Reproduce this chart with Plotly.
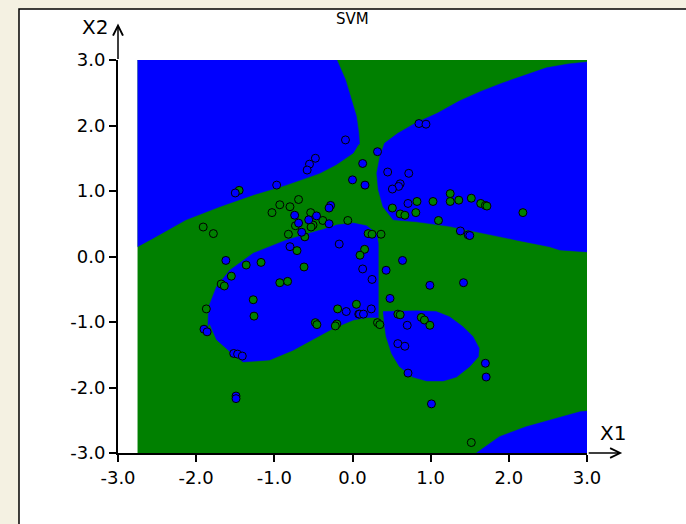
import plotly.graph_objects as go

# ---- data ----
grid_x = [-2.75, 3.0, 3.0, -2.75]
grid_y = [-3.0, -3.0, 3.0, 3.0]

region_tl_x = [-2.75, -0.20, -0.09, -0.01, 0.05, 0.08, 0.09, 0.07, 0.01, -0.21, -0.42, -0.85, -1.27, -1.70, -2.13, -2.55, -2.75]
region_tl_y = [3.0, 3.0, 2.70, 2.39, 2.14, 1.88, 1.72, 1.70, 1.58, 1.40, 1.27, 1.09, 0.94, 0.76, 0.56, 0.28, 0.15]

region_tr_x = [3.0, 2.76, 2.48, 2.20, 1.92, 1.64, 1.36, 1.09, 0.81, 0.58, 0.41, 0.35, 0.31, 0.33, 0.39, 0.52, 0.82, 1.24, 1.67, 2.10, 2.52, 2.65, 3.0]
region_tr_y = [2.97, 2.94, 2.88, 2.77, 2.65, 2.52, 2.37, 2.19, 2.04, 1.88, 1.73, 1.52, 1.27, 1.02, 0.76, 0.56, 0.53, 0.46, 0.35, 0.25, 0.15, 0.10, 0.07]

region_cl_x = [-0.21, 0.01, 0.18, 0.31, 0.33, 0.33, 0.18, 0.01, -0.25, -0.51, -0.76, -1.06, -1.40, -1.57, -1.74, -1.83, -1.85, -1.84, -1.74, -1.57, -1.27, -0.85, -0.42]
region_cl_y = [0.48, 0.51, 0.47, 0.35, 0.20, -0.93, -0.93, -0.97, -1.10, -1.27, -1.43, -1.58, -1.61, -1.45, -1.27, -1.02, -1.07, -0.77, -0.46, -0.21, 0.05, 0.25, 0.40]

region_lm_x = [0.39, 0.82, 1.07, 1.24, 1.41, 1.54, 1.62, 1.61, 1.50, 1.33, 1.16, 0.95, 0.77, 0.60, 0.50, 0.43, 0.40]
region_lm_y = [-0.84, -0.83, -0.84, -0.92, -1.07, -1.22, -1.40, -1.53, -1.68, -1.84, -1.90, -1.90, -1.84, -1.68, -1.48, -1.22, -0.97]

region_br_x = [1.585, 1.88, 2.22, 2.61, 2.91, 3.0, 3.0]
region_br_y = [-3.0, -2.75, -2.60, -2.47, -2.37, -2.36, -3.0]

blue_x = [-0.09, -0.475, -0.55, -0.58, 0.00, -0.97, -1.50, -0.28, -0.30, -0.74, -0.46, -0.56, -0.69, -0.30, -0.65, -0.17, -0.80, -1.62,
          0.85, 0.94, 0.32, 0.13, 0.45, 0.72, 0.16, 0.61, 0.59, 0.51, 0.71, 1.38, 1.48, 1.50, 0.64, 0.13, 0.43,
          -0.08, 0.08, -1.90, -1.86, -1.52, -1.47, -1.41, -1.49, -1.49,
          0.25, 0.99, 1.42, 0.48, 0.09, 0.14, 0.24, 0.70, 0.58, 0.67, 0.71, 1.70, 1.71, 1.01]
blue_y = [1.78, 1.50, 1.41, 1.32, 1.17, 1.09, 0.97, 0.78, 0.74, 0.63, 0.62, 0.56, 0.51, 0.50, 0.37, 0.19, 0.15, -0.06,
          2.03, 2.02, 1.60, 1.42, 1.29, 1.27, 1.09, 1.11, 1.07, 1.03, 0.81, 0.39, 0.33, 0.32, -0.06, -0.19, -0.21,
          -0.84, -0.88, -1.11, -1.15, -1.48, -1.49, -1.52, -2.13, -2.17,
          -0.35, -0.44, -0.40, -0.64, -0.88, -0.88, -0.80, -1.05, -1.33, -1.37, -1.78, -1.63, -1.84, -2.25]

green_x = [-1.45, -0.69, -0.93, -0.80, -1.03, -0.535, -0.38, -0.505, -0.53, -0.73, -0.06, -0.82, -0.61, -0.71, -1.91, -1.78, -1.36, -1.17, -0.62, -1.55,
           1.25, 1.52, 1.03, 0.825, 1.25, 1.36, 1.64, 1.70, 1.72, 2.18, 0.51, 0.81, 0.61, 0.67, 1.10, 0.20, 0.25, 0.365, 0.155, 0.096,
           -1.68, -1.64, -0.93, -0.83, -1.27, -1.87, -1.26, -0.19, 0.05, -0.475, -0.455, -0.20, -0.22,
           0.32, 0.35, 0.58, 0.61, 0.88, 0.92, 0.99, 1.52]
green_y = [1.01, 0.87, 0.79, 0.76, 0.67, 0.67, 0.55, 0.48, 0.45, 0.47, 0.55, 0.34, 0.30, 0.09, 0.45, 0.35, -0.13, -0.09, -0.16, -0.30,
           0.96, 0.89, 0.84, 0.84, 0.84, 0.86, 0.81, 0.78, 0.77, 0.67, 0.74, 0.67, 0.65, 0.63, 0.55, 0.35, 0.34, 0.34, 0.11, 0.02,
           -0.42, -0.45, -0.40, -0.38, -0.66, -0.80, -0.91, -0.80, -0.73, -1.01, -1.04, -1.03, -1.06,
           -1.01, -1.04, -0.88, -0.89, -0.93, -0.97, -1.05, -2.84]

tick_vals = [-3, -2, -1, 0, 1, 2, 3]
tick_text = ["-3.0", "-2.0", "-1.0", "0.0", "1.0", "2.0", "3.0"]

BLUE = "#0000ff"
GREEN = "#008000"
FONT = "DejaVu Sans"

fig = go.Figure()

fig.add_trace(go.Scatter(x=grid_x, y=grid_y, mode="lines", fill="toself",
                         fillcolor=GREEN, line=dict(width=0, color=GREEN),
                         hoverinfo="skip", showlegend=False))
for rx, ry in [(region_tl_x, region_tl_y), (region_tr_x, region_tr_y),
               (region_cl_x, region_cl_y), (region_lm_x, region_lm_y),
               (region_br_x, region_br_y)]:
    fig.add_trace(go.Scatter(x=rx, y=ry, mode="lines", fill="toself",
                             fillcolor=BLUE, line=dict(width=0.5, color=BLUE),
                             hoverinfo="skip", showlegend=False))

fig.add_trace(go.Scatter(x=green_x, y=green_y, mode="markers", showlegend=False,
                         marker=dict(symbol="circle", size=8, color=GREEN,
                                     line=dict(color="#000000", width=1))))
fig.add_trace(go.Scatter(x=blue_x, y=blue_y, mode="markers", showlegend=False,
                         marker=dict(symbol="circle", size=8, color=BLUE,
                                     line=dict(color="#000000", width=1))))

axis_common = dict(
    showgrid=False, zeroline=False, showline=True, linecolor="black", linewidth=2,
    ticks="outside", ticklen=7, tickwidth=2, tickcolor="black",
    tickvals=tick_vals, ticktext=tick_text,
    tickfont=dict(family=FONT, size=18, color="black"),
    range=[-3, 3], fixedrange=True,
)

fig.update_layout(
    width=686, height=524,
    margin=dict(l=118, r=99, t=60, b=71),
    paper_bgcolor="#f4f1e2",
    plot_bgcolor="white",
    xaxis=dict(**axis_common),
    yaxis=dict(**axis_common),
    font=dict(family=FONT),
    shapes=[dict(type="rect", xref="paper", yref="paper",
                 x0=-0.2111, x1=1.5, y0=-0.5, y1=1.1298,
                 fillcolor="white", line=dict(color="black", width=1.5),
                 layer="below")],
    annotations=[
        dict(text="SVM", xref="paper", yref="paper", x=0.5, y=1.105,
             xanchor="center", yanchor="middle", showarrow=False,
             font=dict(family=FONT, size=15, color="black")),
        # y-axis arrow
        dict(x=-3, y=1.093, xref="x", yref="paper", text="", showarrow=True,
             ax=0, ay=37, axref="pixel", ayref="pixel",
             arrowhead=5, arrowsize=1.3, arrowwidth=1.5, arrowcolor="black"),
        # x-axis arrow
        dict(x=1.075, y=-3, xref="paper", yref="y", text="", showarrow=True,
             ax=-35, ay=0, axref="pixel", ayref="pixel",
             arrowhead=5, arrowsize=1.3, arrowwidth=1.5, arrowcolor="black"),
        dict(text="X2", xref="paper", yref="paper", x=-0.05, y=1.085,
             xanchor="center", yanchor="middle", showarrow=False,
             font=dict(family=FONT, size=20, color="black")),
        dict(text="X1", xref="paper", yref="paper", x=1.055, y=0.05,
             xanchor="center", yanchor="middle", showarrow=False,
             font=dict(family=FONT, size=20, color="black")),
    ],
)

fig.write_html("out.html")
